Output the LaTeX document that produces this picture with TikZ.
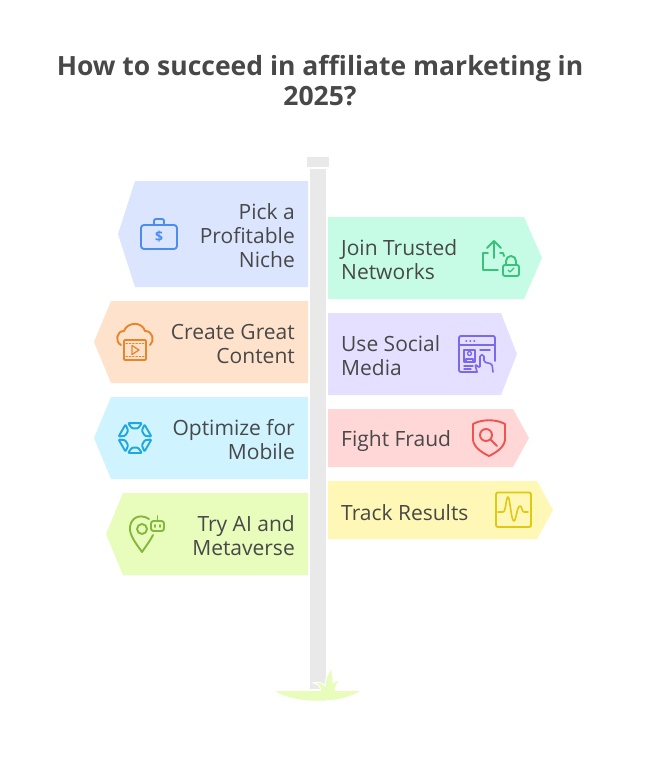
\documentclass[tikz,border=0pt]{standalone}
\usepackage{fontspec}
\setmainfont{Open Sans}
\usepackage{tikz}
\definecolor{inkgray}{HTML}{484848}
\definecolor{postgray}{HTML}{E9E9E9}
\definecolor{grassgreen}{HTML}{E8FCBC}
\tikzset{
    signtitle/.style={text=inkgray,font=\fontsize{26.5}{30}\selectfont\bfseries,align=center},
    signleft/.style={text=inkgray,font=\fontsize{21}{24}\selectfont,align=right,anchor=east,inner sep=0pt},
    signright/.style={text=inkgray,font=\fontsize{21}{24}\selectfont,align=left,anchor=west,inner sep=0pt},
    iconline/.style={line width=1.9pt,line cap=round,line join=round},
}
\begin{document}
\begin{tikzpicture}[x=1pt,y=-1pt]
    \useasboundingbox (0,0) rectangle (648,769);
    \node[signtitle] (title) at (320,81) {How to succeed in affiliate marketing in\\2025?};
    \fill[postgray] (310,169) rectangle (326,689);
    \fill[postgray] (307,157) rectangle (329,167);
    \path[fill=grassgreen,draw=white,line width=1pt] (320,693) .. controls (322,688) and (319,684) .. (313,683) .. controls (319,681) and (323,683) .. (325,686) .. controls (325,678) and (328,674) .. (331,668) .. controls (333,674) and (333,680) .. (333,683) .. controls (335,681) and (337,680) .. (340,680) .. controls (337,683) and (335,687) .. (335,693) -- cycle;
    \fill[grassgreen] (275,691) .. controls (295,704) and (340,704) .. (360,691) -- cycle;

    \fill[fill={rgb,255:red,219;green,230;blue,254}] (308,181) -- (135,181) -- (118,234) -- (135,287) -- (308,287) -- cycle;
    \fill[fill={rgb,255:red,254;green,226;blue,204}] (308,301) -- (111,301) -- (94,342) -- (111,383) -- (308,383) -- cycle;
    \fill[fill={rgb,255:red,207;green,243;blue,255}] (308,397) -- (111,397) -- (94,438) -- (111,479) -- (308,479) -- cycle;
    \fill[fill={rgb,255:red,232;green,252;blue,188}] (308,493) -- (123,493) -- (106,534) -- (123,575) -- (308,575) -- cycle;
    \fill[fill={rgb,255:red,198;green,252;blue,229}] (328,217) -- (524,217) -- (542,258) -- (524,299) -- (328,299) -- cycle;
    \fill[fill={rgb,255:red,229;green,224;blue,255}] (328,313) -- (501,313) -- (517,354) -- (501,395) -- (328,395) -- cycle;
    \fill[fill={rgb,255:red,255;green,215;blue,215}] (328,409) -- (513,409) -- (529,438) -- (513,467) -- (328,467) -- cycle;
    \fill[fill={rgb,255:red,254;green,247;blue,181}] (328,481) -- (537,481) -- (553,510) -- (537,539) -- (328,539) -- cycle;

    \node[signleft] (niche) at (295,236) {Pick a\\Profitable\\Niche};
    \node[signleft] (content) at (295,344) {Create Great\\Content};
    \node[signleft] (mobile) at (295,440) {Optimize for\\Mobile};
    \node[signleft] (metaverse) at (295,536) {Try AI and\\Metaverse};
    \node[signright] (networks) at (341,260) {Join Trusted\\Networks};
    \node[signright] (social) at (341,356) {Use Social\\Media};
    \node[signright] (fraud) at (341,441) {Fight Fraud};
    \node[signright] (results) at (341,513) {Track Results};

    \begin{scope}[iconline,draw={rgb,255:red,74;green,140;blue,240}]
        \draw[rounded corners=3pt] (141,225) rectangle (177,249);
        \draw[rounded corners=2pt] (154,225) -- (154,219) -- (164,219) -- (164,225);
        \node[inner sep=0pt,text={rgb,255:red,74;green,140;blue,240},font=\fontsize{14}{14}\selectfont\bfseries] (dollar) at (159,237) {\$};
    \end{scope}
    \begin{scope}[iconline,draw={rgb,255:red,56;green,194;blue,122}]
        \draw (494,258) -- (494,241);
        \draw (487,248) -- (494,241) -- (501,248);
        \draw (488,253) -- (483,253) -- (483,270) -- (498,270);
        \draw (500,253) -- (503,253) -- (504,256);
        \draw[rounded corners=2pt] (503,265) rectangle (519,276);
        \draw (506,265) -- (506,261) arc[radius=5pt,start angle=180,delta angle=-180] -- (516,265);
        \draw[line width=1.3pt] (508,270) -- (510,272) -- (514,268);
    \end{scope}
    \begin{scope}[iconline,draw={rgb,255:red,124;green,104;blue,238}]
        \draw[rounded corners=2pt] (477,372) -- (459,372) -- (459,336) -- (495,336) -- (495,361);
        \draw (459,345) -- (495,345);
        \draw[line width=1.5pt] (466,341) -- (466.5,341) (470,341) -- (470.5,341) (474,341) -- (474.5,341);
        \draw[line width=1.4pt] (464,350) rectangle (475,362);
        \draw[line width=1.3pt] (469.5,353.5) circle[radius=2pt];
        \draw[line width=1.3pt] (466,362) -- (466,359) -- (473,359) -- (473,362);
        \draw[line width=1.4pt] (480,350) -- (490,350) (464,366) -- (473,366) (464,369) -- (471,369);
        \draw[rounded corners=1.5pt,line width=1.6pt] (477,372) -- (475,364) -- (480,368) -- (480,355) -- (484,355) -- (484,362) -- (492,364) -- (493,372);
    \end{scope}
    \begin{scope}[iconline,draw={rgb,255:red,232;green,133;blue,44}]
        \draw (121,345) .. controls (115,342) and (116,331) .. (124,331) .. controls (127,322) and (142,321) .. (145,331) .. controls (153,331) and (155,341) .. (150,345);
        \draw[fill={rgb,255:red,254;green,226;blue,204},rounded corners=1pt] (124,340) rectangle (146,360);
        \draw[line width=1.3pt,dotted] (126,343.5) -- (144,343.5) (126,356.5) -- (144,356.5);
        \draw[line width=1.3pt] (132,345.5) -- (139,350) -- (132,354.5) -- cycle;
    \end{scope}
    \begin{scope}[iconline,draw={rgb,255:red,31;green,168;blue,224},shift={(135,438)}]
        \foreach \ang in {30,90,150,210,270,330}
            \draw[rounded corners=1pt] (\ang-25:16.5) -- (\ang+25:16.5) -- (\ang+17:10) -- (\ang-17:10) -- cycle;
    \end{scope}
    \begin{scope}[iconline,draw={rgb,255:red,132;green,184;blue,58}]
        \draw (149,519) .. controls (138,512) and (129,520) .. (130,530) .. controls (131,538) and (138,546) .. (142,552) .. controls (146,546) and (150,541) .. (153,535);
        \draw (142,529) circle[radius=5pt];
        \draw[rounded corners=2.5pt] (151,521) rectangle (164,531);
        \draw (157.5,521) -- (157.5,516);
        \draw (155,525) -- (155,527) (160,525) -- (160,527);
    \end{scope}
    \begin{scope}[iconline,draw={rgb,255:red,239;green,83;blue,80}]
        \draw (473,424) .. controls (482,419) and (496,419) .. (505,424) -- (505,440) .. controls (504,448) and (495,453) .. (489,456) .. controls (483,453) and (474,448) .. (473,440) -- cycle;
        \draw (486,435) circle[radius=6pt];
        \draw (490.5,439.5) -- (497,446);
    \end{scope}
    \begin{scope}[iconline,draw={rgb,255:red,224;green,200;blue,20}]
        \draw[rounded corners=2pt] (496,492.5) rectangle (531,527);
        \draw[line width=1.6pt] (498,512) -- (503,512) .. controls (506,512) and (506,497) .. (508,497) .. controls (510,497) and (511,521) .. (514,521) .. controls (516,521) and (517,506) .. (520,506) .. controls (522,506) and (522,512) .. (524,512) -- (528,512);
    \end{scope}
\end{tikzpicture}
\end{document}
